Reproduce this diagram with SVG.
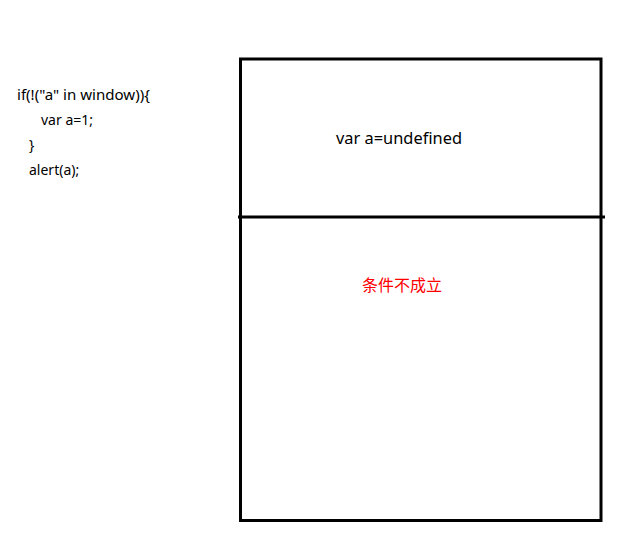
<svg xmlns="http://www.w3.org/2000/svg" width="633" height="535" viewBox="0 0 633 535">
<style>
.code{font-family:"Noto Sans","Open Sans","Liberation Sans",sans-serif;font-size:14px;fill:#000}
.lbl{font-family:"Noto Sans","Open Sans","Liberation Sans",sans-serif;font-size:16px;fill:#000}
.red{font-family:"Noto Sans CJK SC",sans-serif;font-size:16px;fill:#ff0000}
.box{fill:none;stroke:#000;stroke-width:3}
</style>
<rect width="633" height="535" fill="#fff"/>
<g id="code">
<text class="code" x="17" y="100" textLength="133" lengthAdjust="spacingAndGlyphs">if(!("a" in window)){</text>
<text class="code" x="41" y="125">var a=1;</text>
<text class="code" x="29" y="150">}</text>
<text class="code" x="29" y="175">alert(a);</text>
</g>
<g id="scope">
<rect class="box" x="240.5" y="59" width="360.5" height="461.5"/>
<line class="box" x1="238" y1="217" x2="605" y2="217"/>
</g>
<g id="top">
<text class="lbl" x="336" y="144" textLength="126" lengthAdjust="spacingAndGlyphs">var a=undefined</text>
</g>
<g id="bottom">
<text class="red" x="362" y="291" textLength="80">条件不成立</text>
</g>
<g id="connectors"/>
</svg>
